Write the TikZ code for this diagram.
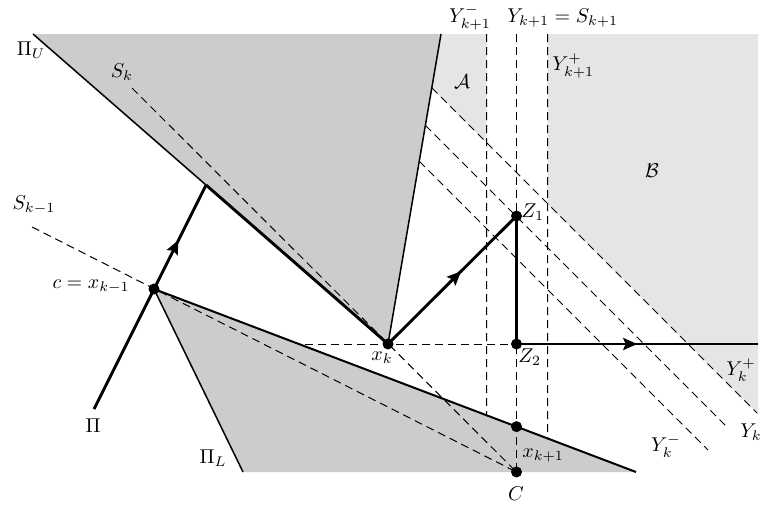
\documentclass[tikz,border=0pt]{standalone}
\usepackage{amsmath,amssymb}
\usetikzlibrary{arrows.meta,decorations.markings}
\definecolor{darkshade}{gray}{0.8}
\definecolor{lightshade}{gray}{0.9}

\begin{document}
\begin{tikzpicture}[x=0.5pt,y=-0.5pt,
    guide/.style={dash pattern=on 4pt off 2.5pt, line width=0.5pt},
    traj/.style={line width=1.45pt},
    bound/.style={line width=0.75pt},
    dotnode/.style={circle, fill=black, inner sep=0pt, minimum size=5.5pt},
    lbl/.style={inner sep=1pt},
    midarrow/.style={postaction={decorate,decoration={markings,
        mark=at position #1 with {\arrow{Stealth[length=7pt,width=6pt,inset=1.2pt]}}}}},
    >=Stealth
]
\useasboundingbox (0,0) rectangle (761,510);

% main points
\coordinate (c) at (154,289);
\coordinate (xk) at (388,344);
\coordinate (Z1) at (516.5,216);
\coordinate (Z2) at (516.5,344);
\coordinate (C) at (516.5,472);
\coordinate (PiU) at (33,34);
\coordinate (hit) at (206,185);
\coordinate (PiStart) at (94,409);
\coordinate (top) at (441,34);
\coordinate (lowEnd) at (636,472);
\coordinate (PiLEnd) at (243,472);
\coordinate (right) at (758,344);

% vertical guides
\coordinate (ym0) at (486.5,34);
\coordinate (y0) at (516.5,34);
\coordinate (yp0) at (547.5,34);
\coordinate (ym1) at (intersection of ym0--486.5,500 and c--lowEnd);
\coordinate (yp1) at (intersection of yp0--547.5,500 and c--lowEnd);
\coordinate (xk1) at (intersection of y0--C and c--lowEnd);

% diagonal guides
\coordinate (dp0) at (431.8,87.8);
\coordinate (dp1) at (757,413);
\coordinate (d0) at (425.4,125.4);
\coordinate (d1) at (728,428);
\coordinate (dm0) at (419.2,161.2);
\coordinate (dm1) at (708,450);
\coordinate (Sk0) at (132,88);
\coordinate (Skm0) at (32,227);
\coordinate (hz0) at (305,344);

% shaded regions
\fill[darkshade] (PiU) -- (top) -- (xk) -- cycle;
\fill[darkshade] (c) -- (lowEnd) -- (PiLEnd) -- cycle;
\fill[lightshade] (top) -- (ym0) -- (486.5,142.7) -- (dp0) -- cycle;
\fill[lightshade] (yp0) -- (758,34) -- (758,414) -- (547.5,203.5) -- cycle;

% dashed guides
\draw[guide] (ym0) -- (ym1);
\draw[guide] (y0) -- (C);
\draw[guide] (yp0) -- (yp1);
\draw[guide] (dp0) -- (dp1);
\draw[guide] (d0) -- (d1);
\draw[guide] (dm0) -- (dm1);
\draw[guide] (Sk0) -- (C);
\draw[guide] (Skm0) -- (C);
\draw[guide] (hz0) -- (Z2);

% boundaries
\draw[bound] (PiU) -- (hit);
\draw[bound] (xk) -- (top);
\draw[bound] (c) -- (PiLEnd);
\draw[line width=1pt] (c) -- (lowEnd);

% trajectory
\draw[traj] (PiStart) -- (c);
\draw[traj, midarrow=0.47] (c) -- (hit);
\draw[traj] (hit) -- (xk);
\draw[traj, midarrow=0.57] (xk) -- (Z1);
\draw[traj] (Z1) -- (Z2);
\draw[traj, midarrow=0.5] (Z2) -- (right);

% points
\foreach \p in {c,xk,Z1,Z2,xk1,C}
  \node[dotnode] (\p-dot) at (\p) {};

% labels
\node[lbl] (lPiU) at (31,50) {$\Pi_U$};
\node[lbl] (lSk) at (122,72) {$S_k$};
\node[lbl] (lSkm) at (34,205) {$S_{k-1}$};
\node[lbl, anchor=east] (lc) at (132,287) {$c = x_{k-1}$};
\node[lbl] (lPi) at (93,426) {$\Pi$};
\node[lbl] (lPiL) at (213,458) {$\Pi_L$};
\node[lbl] (lxk) at (382,358) {$x_k$};
\node[lbl, anchor=west] (lZ1) at (519,212) {$Z_1$};
\node[lbl, anchor=west] (lZ2) at (516,357) {$Z_2$};
\node[lbl, anchor=west] (lxk1) at (520,456) {$x_{k+1}$};
\node[lbl] (lC) at (516,494) {$C$};
\node[lbl] (lykp) at (741,370) {$Y_k^+$};
\node[lbl] (lyk) at (751,432) {$Y_k$};
\node[lbl] (lykm) at (666,446) {$Y_k^-$};
\node[lbl] (lA) at (462,82) {$\mathcal{A}$};
\node[lbl] (lB) at (652,171) {$\mathcal{B}$};
\node[lbl, anchor=base] (lym) at (470,22) {$Y_{k+1}^-$};
\node[lbl, anchor=base west] (ly) at (505,22) {$Y_{k+1} = S_{k+1}$};
\node[lbl, anchor=west] (lyp) at (550,66) {$Y_{k+1}^+$};

\end{tikzpicture}
\end{document}
